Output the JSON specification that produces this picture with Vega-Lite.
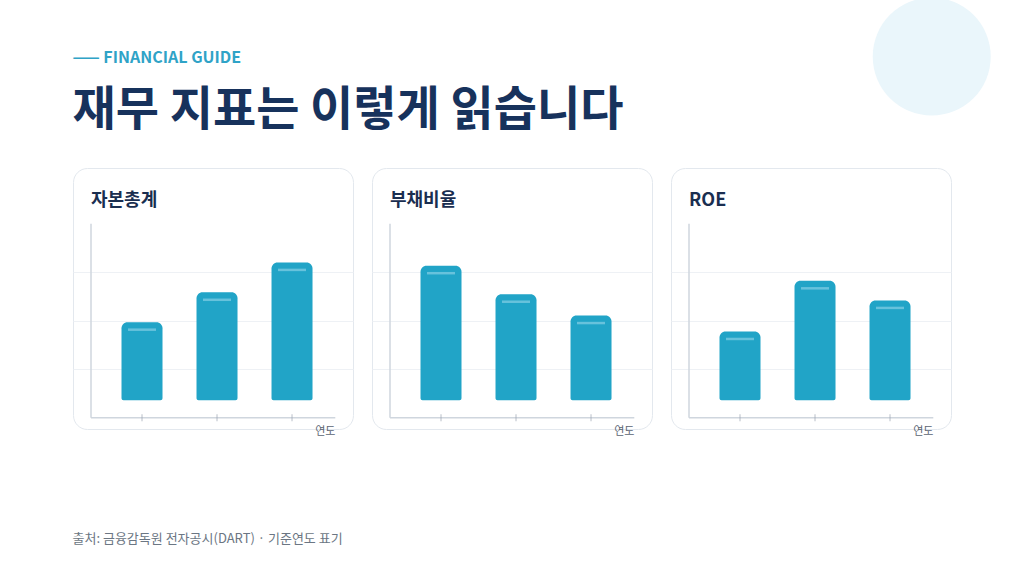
{
  "$schema": "https://vega.github.io/schema/vega-lite/v6.json",
  "background": "white",
  "padding": {"left": 72, "top": -3, "right": 0, "bottom": 0},
  "config": {
    "font": "Noto Sans CJK KR",
    "view": {"fill": "white", "stroke": "#e3e8ee", "strokeWidth": 1, "cornerRadius": 14},
    "concat": {"spacing": 17}
  },
  "datasets": {
    "fin": [
      {"metric": "자본총계", "period": 1, "value": 49.3},
      {"metric": "자본총계", "period": 2, "value": 64.7},
      {"metric": "자본총계", "period": 3, "value": 80.1},
      {"metric": "부채비율", "period": 1, "value": 78.4},
      {"metric": "부채비율", "period": 2, "value": 63.7},
      {"metric": "부채비율", "period": 3, "value": 52.7},
      {"metric": "ROE", "period": 1, "value": 44.5},
      {"metric": "ROE", "period": 2, "value": 70.6},
      {"metric": "ROE", "period": 3, "value": 60.5}
    ]
  },
  "title": {
    "text": "출처: 금융감독원 전자공시(DART) · 기준연도 표기",
    "orient": "bottom",
    "anchor": "start",
    "fontSize": 13,
    "fontWeight": "normal",
    "color": "#6b7683",
    "offset": 96
  },
  "vconcat": [
    {
      "title": {
        "text": "—— FINANCIAL GUIDE",
        "subtitle": "재무 지표는 이렇게 읽습니다",
        "anchor": "start",
        "fontSize": 16,
        "fontWeight": "bold",
        "color": "#2fa3c7",
        "subtitleFontSize": 47,
        "subtitleFontWeight": "bold",
        "subtitleColor": "#17325c",
        "subtitlePadding": 22,
        "offset": -136.5
      },
      "hconcat": [
        {
          "width": 280, "height": 261,
          "title": {"text": "자본총계", "anchor": "start", "dx": 18, "dy": 46, "fontSize": 18, "fontWeight": "bold", "color": "#1a2e50"},
          "data": {"name": "fin"},
          "transform": [{"filter": "datum.metric === '자본총계'"}],
          "layer": [
            {"data": {"values": [{}]}, "mark": {"type": "rule", "color": "#cfd6de", "strokeWidth": 1.5}, "encoding": {"x": {"datum": 0.32, "type": "quantitative"}, "y": {"datum": 0, "type": "quantitative"}, "y2": {"datum": 100}}},
            {"data": {"values": [{}]}, "mark": {"type": "rule", "color": "#cfd6de", "strokeWidth": 1.5}, "encoding": {"x": {"datum": 0.32, "type": "quantitative"}, "x2": {"datum": 3.577}, "y": {"datum": 0, "type": "quantitative"}}},
            {"mark": {"type": "tick", "orient": "vertical", "size": 7, "thickness": 1, "color": "#9aa4b0"}, "encoding": {"x": {"field": "period", "type": "quantitative"}, "y": {"datum": 0, "type": "quantitative"}}},
            {"mark": {"type": "bar", "width": 41, "color": "#21a4c7", "cornerRadiusTopLeft": 6, "cornerRadiusTopRight": 6, "cornerRadiusBottomLeft": 2, "cornerRadiusBottomRight": 2},
             "encoding": {
               "x": {"field": "period", "type": "quantitative", "title": "연도", "scale": {"domain": [0.08, 3.813], "nice": false, "zero": false, "padding": 0},
                     "axis": {"labels": false, "ticks": false, "domain": false, "grid": false, "titleX": 262, "titleY": 2, "titleAlign": "right", "titleBaseline": "middle", "titleFontSize": 11, "titleFontWeight": "normal", "titleColor": "#5b6573"}},
               "y": {"field": "value", "type": "quantitative", "title": null, "scale": {"domain": [-5.77, 128.76], "nice": false, "zero": false, "padding": 0},
                     "axis": {"labels": false, "ticks": false, "domain": false, "values": [25, 50, 75], "grid": true, "gridColor": "#eef1f5"}},
               "y2": {"datum": 9}
             }},
            {"mark": {"type": "tick", "orient": "horizontal", "size": 28, "thickness": 2.5, "color": "#86cfe6", "yOffset": 7.5}, "encoding": {"x": {"field": "period", "type": "quantitative"}, "y": {"field": "value", "type": "quantitative"}}}
          ]
        },
        {
          "width": 280, "height": 261,
          "title": {"text": "부채비율", "anchor": "start", "dx": 18, "dy": 46, "fontSize": 18, "fontWeight": "bold", "color": "#1a2e50"},
          "data": {"name": "fin"},
          "transform": [{"filter": "datum.metric === '부채비율'"}],
          "layer": [
            {"data": {"values": [{}]}, "mark": {"type": "rule", "color": "#cfd6de", "strokeWidth": 1.5}, "encoding": {"x": {"datum": 0.32, "type": "quantitative"}, "y": {"datum": 0, "type": "quantitative"}, "y2": {"datum": 100}}},
            {"data": {"values": [{}]}, "mark": {"type": "rule", "color": "#cfd6de", "strokeWidth": 1.5}, "encoding": {"x": {"datum": 0.32, "type": "quantitative"}, "x2": {"datum": 3.577}, "y": {"datum": 0, "type": "quantitative"}}},
            {"mark": {"type": "tick", "orient": "vertical", "size": 7, "thickness": 1, "color": "#9aa4b0"}, "encoding": {"x": {"field": "period", "type": "quantitative"}, "y": {"datum": 0, "type": "quantitative"}}},
            {"mark": {"type": "bar", "width": 41, "color": "#21a4c7", "cornerRadiusTopLeft": 6, "cornerRadiusTopRight": 6, "cornerRadiusBottomLeft": 2, "cornerRadiusBottomRight": 2},
             "encoding": {
               "x": {"field": "period", "type": "quantitative", "title": "연도", "scale": {"domain": [0.08, 3.813], "nice": false, "zero": false, "padding": 0},
                     "axis": {"labels": false, "ticks": false, "domain": false, "grid": false, "titleX": 262, "titleY": 2, "titleAlign": "right", "titleBaseline": "middle", "titleFontSize": 11, "titleFontWeight": "normal", "titleColor": "#5b6573"}},
               "y": {"field": "value", "type": "quantitative", "title": null, "scale": {"domain": [-5.77, 128.76], "nice": false, "zero": false, "padding": 0},
                     "axis": {"labels": false, "ticks": false, "domain": false, "values": [25, 50, 75], "grid": true, "gridColor": "#eef1f5"}},
               "y2": {"datum": 9}
             }},
            {"mark": {"type": "tick", "orient": "horizontal", "size": 28, "thickness": 2.5, "color": "#86cfe6", "yOffset": 7.5}, "encoding": {"x": {"field": "period", "type": "quantitative"}, "y": {"field": "value", "type": "quantitative"}}}
          ]
        },
        {
          "width": 280, "height": 261,
          "title": {"text": "ROE", "anchor": "start", "dx": 18, "dy": 216.5, "fontSize": 18, "fontWeight": "bold", "color": "#1a2e50"},
          "data": {"name": "fin"},
          "transform": [{"filter": "datum.metric === 'ROE'"}],
          "layer": [
            {"data": {"values": [{}]}, "mark": {"type": "circle", "size": 13924, "color": "#eaf6fb", "opacity": 1}, "encoding": {"x": {"datum": 3.556, "type": "quantitative"}, "y": {"datum": 186.2, "type": "quantitative"}}},
            {"data": {"values": [{}]}, "mark": {"type": "rule", "color": "#cfd6de", "strokeWidth": 1.5}, "encoding": {"x": {"datum": 0.32, "type": "quantitative"}, "y": {"datum": 0, "type": "quantitative"}, "y2": {"datum": 100}}},
            {"data": {"values": [{}]}, "mark": {"type": "rule", "color": "#cfd6de", "strokeWidth": 1.5}, "encoding": {"x": {"datum": 0.32, "type": "quantitative"}, "x2": {"datum": 3.577}, "y": {"datum": 0, "type": "quantitative"}}},
            {"mark": {"type": "tick", "orient": "vertical", "size": 7, "thickness": 1, "color": "#9aa4b0"}, "encoding": {"x": {"field": "period", "type": "quantitative"}, "y": {"datum": 0, "type": "quantitative"}}},
            {"mark": {"type": "bar", "width": 41, "color": "#21a4c7", "cornerRadiusTopLeft": 6, "cornerRadiusTopRight": 6, "cornerRadiusBottomLeft": 2, "cornerRadiusBottomRight": 2},
             "encoding": {
               "x": {"field": "period", "type": "quantitative", "title": "연도", "scale": {"domain": [0.08, 3.813], "nice": false, "zero": false, "padding": 0},
                     "axis": {"labels": false, "ticks": false, "domain": false, "grid": false, "titleX": 262, "titleY": 2, "titleAlign": "right", "titleBaseline": "middle", "titleFontSize": 11, "titleFontWeight": "normal", "titleColor": "#5b6573"}},
               "y": {"field": "value", "type": "quantitative", "title": null, "scale": {"domain": [-5.77, 128.76], "nice": false, "zero": false, "padding": 0},
                     "axis": {"labels": false, "ticks": false, "domain": false, "values": [25, 50, 75], "grid": true, "gridColor": "#eef1f5"}},
               "y2": {"datum": 9}
             }},
            {"mark": {"type": "tick", "orient": "horizontal", "size": 28, "thickness": 2.5, "color": "#86cfe6", "yOffset": 7.5}, "encoding": {"x": {"field": "period", "type": "quantitative"}, "y": {"field": "value", "type": "quantitative"}}}
          ]
        }
      ]
    }
  ]
}
